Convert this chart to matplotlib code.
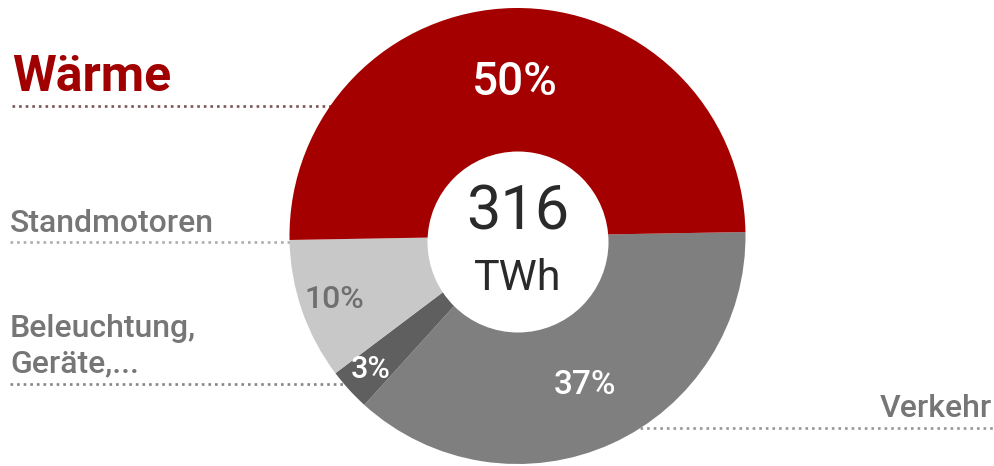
import numpy as np
import matplotlib
matplotlib.use("Agg")
import matplotlib.pyplot as plt
from matplotlib.patches import Circle

# Energy use by application (share of 316 TWh)
categories = ["Verkehr", "Beleuchtung, Geräte,...", "Standmotoren", "Wärme"]
shares = [37, 3, 10, 50]
total_value = "316"
total_unit = "TWh"

W, H = 995, 466
FONT = ["Roboto", "DejaVu Sans"]

fig = plt.figure(figsize=(W / 100, H / 100), dpi=100)
ax = fig.add_axes([0, 0, 1, 1])

def Y(y):
    return H - y

slice_colors = ["#7f7f7f", "#5f5f5f", "#c8c8c8", "#a40000"]
cx, cy, r = 517.5, Y(236), 228

# dotted leader lines drawn underneath the donut
leaders = [
    (12, 335, 106, "#7a5555"),
    (10, 300, 242, "#adadad"),
    (10, 350, 384, "#858585"),
    (640, 995, 428, "#979797"),
]
for x0, x1, yy, col in leaders:
    ax.plot([x0, x1], [Y(yy), Y(yy)], color=col, lw=1.9,
            linestyle=(0, (1, 1.5)), dash_capstyle="butt", zorder=1)

wedges, _ = ax.pie(shares, colors=slice_colors, startangle=1, counterclock=False,
                   center=(cx, cy), radius=r,
                   wedgeprops=dict(linewidth=0, zorder=2))

# centre hole
ax.add_patch(Circle((518, Y(242)), 90.5, color="white", zorder=3, lw=0))

# percentage labels at each wedge's mid angle
label_dist = [0.72, 0.87, 0.85, 0.675]
label_colors = ["white", "white", "#6f6f6f", "white"]
label_sizes = [24, 22, 23, 33]
for w, v, d, c, s in zip(wedges, shares, label_dist, label_colors, label_sizes):
    mid = np.deg2rad((w.theta1 + w.theta2) / 2)
    ax.text(cx + d * r * np.cos(mid), cy + d * r * np.sin(mid), f"{v}%",
            ha="center", va="center", fontsize=s, color=c, family=FONT,
            fontweight="medium", zorder=4)

ax.text(518, Y(212), total_value, ha="center", va="center", fontsize=44,
        color="#2a2a2a", family=FONT, zorder=4)
ax.text(518, Y(279), total_unit, ha="center", va="center", fontsize=31,
        color="#2a2a2a", family=FONT, zorder=4)

# category names
ax.text(12, Y(91), categories[3], ha="left", va="baseline", fontsize=36,
        fontweight="bold", color="#a00000", family=FONT)
label_kw = dict(va="baseline", fontsize=23, color="#767676", family=FONT,
                fontweight="medium")
ax.text(10, Y(232), categories[2], ha="left", **label_kw)
ax.text(10, Y(337), "Beleuchtung,", ha="left", **label_kw)
ax.text(10, Y(372), "Geräte,...", ha="left", **label_kw)
ax.text(992, Y(417), categories[0], ha="right", **label_kw)

ax.set_xlim(0, W)
ax.set_ylim(0, H)
ax.set_aspect("auto")
ax.axis("off")

fig.savefig("out.png", dpi=100)
